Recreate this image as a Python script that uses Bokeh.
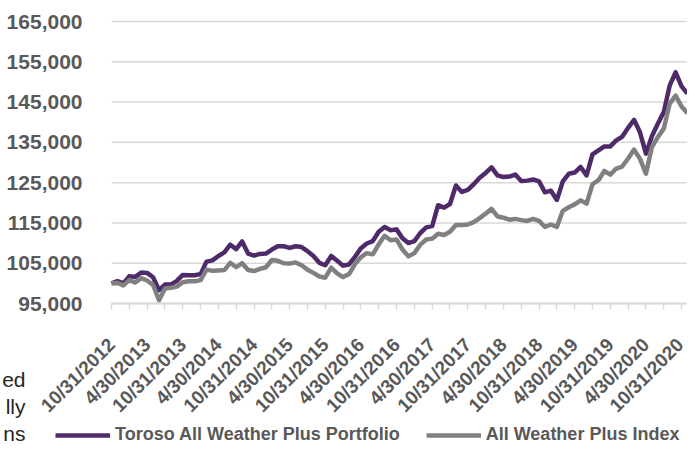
import math
import calendar
from bokeh.plotting import figure
from bokeh.models import (Range1d, FixedTicker, NumeralTickFormatter, Legend,
                          LegendItem, Label, ColumnDataSource)
from bokeh.embed import file_html
from bokeh.resources import INLINE

# ---- data -------------------------------------------------------------
n_months = 98
month_labels = []
for k in range(n_months):
    m = 10 + k
    yr = 2012 + (m - 1) // 12
    mo = (m - 1) % 12 + 1
    month_labels.append(f"{mo}/{calendar.monthrange(yr, mo)[1]}/{yr}")

portfolio = [
    100000, 100550, 100000, 101800, 101600, 102700, 102600, 101500, 98300, 99700,
    99700, 100600, 102100, 102000, 102000, 102300, 105400, 105700, 106800, 107700,
    109600, 108500, 110400, 107400, 106900, 107300, 107400, 108400, 109200, 109200,
    108800, 109200, 109000, 108000, 106800, 105100, 104500, 106800, 105600, 104400,
    104700, 106600, 108700, 109900, 110500, 112800, 114000, 113200, 113400, 111200,
    110000, 110500, 112500, 113900, 114200, 119400, 118800, 119700, 124300, 122700,
    123200, 124600, 126200, 127400, 128800, 126800, 126400, 126500, 127000, 125400,
    125500, 125800, 125300, 122600, 123000, 120700, 125300, 127200, 127500, 128900,
    126800, 132000, 133000, 134000, 134000, 135500, 136400, 138600, 140600, 137500,
    132200, 136500, 139600, 142500, 149100, 152400, 148900, 147100,
]
index_vals = [
    100000, 100100, 99500, 100800, 100200, 101300, 100700, 99600, 95800, 98700,
    98900, 99200, 100300, 100500, 100500, 100800, 103400, 103100, 103200, 103300,
    105100, 104000, 105000, 103300, 103050, 103600, 104000, 105800, 105600, 105000,
    104900, 105200, 104500, 103400, 102600, 101700, 101400, 103900, 102500, 101550,
    102300, 104800, 106500, 107500, 107200, 109700, 111800, 110700, 110900, 108400,
    106700, 107500, 109600, 110900, 111100, 112300, 112000, 112800, 114500, 114500,
    114600, 115200, 116200, 117300, 118500, 116600, 116300, 115800, 116000, 115700,
    115500, 116000, 115500, 114000, 114600, 114000, 118000, 118900, 119600, 120600,
    119800, 124600, 125600, 127900, 127000, 128500, 129000, 131000, 133200, 130900,
    127200, 133800, 136300, 138400, 144600, 146600, 143900, 142250,
]
series_names = ["Toroso All Weather Plus Portfolio", "All Weather Plus Index"]
y_ticks = list(range(95000, 165001, 10000))
tick_step = 3
label_step = 6
side_text = ["ed", "lly", "ns"]

# ---- layout constants (pixels / ranges) --------------------------------
W, H = 687, 445
X_START, X_END = -18.695, 97.0    # canvas left / right edge in month units
Y_BOTTOM, Y_TOP = 59752, 170213   # canvas bottom / top in value units
Y_AXIS_AT = 95000

TXT = "#595959"
FONT = "Liberation Sans"
GRID = "#d9d9d9"

src = ColumnDataSource(dict(x=list(range(n_months)), p=portfolio, g=index_vals))

p = figure(width=W, height=H, output_backend="svg", toolbar_location=None,
           x_range=Range1d(X_START, X_END), y_range=Range1d(Y_BOTTOM, Y_TOP),
           min_border=0)
p.outline_line_color = None
p.background_fill_color = "white"
p.border_fill_color = "white"
p.xgrid.visible = False
p.ygrid.visible = False

# horizontal gridlines limited to the plotting area
p.segment(x0=[0] * len(y_ticks), x1=[X_END] * len(y_ticks), y0=y_ticks, y1=y_ticks,
          line_color=GRID, line_width=1.5)

rp = p.line("x", "p", source=src, line_color="#4f2a6b", line_width=4.5,
            line_join="round")
rg = p.line("x", "g", source=src, line_color="#808080", line_width=4.5,
            line_join="round")

# y axis (drawn at x = 0)
p.yaxis.fixed_location = 0
p.yaxis.ticker = FixedTicker(ticks=y_ticks)
p.yaxis.formatter = NumeralTickFormatter(format="0,0")
p.yaxis.axis_line_color = None
p.yaxis.major_tick_line_color = None
p.yaxis.minor_tick_line_color = None
p.yaxis.major_label_standoff = 23
p.yaxis.major_label_text_font = FONT
p.yaxis.major_label_text_font_style = "bold"
p.yaxis.major_label_text_font_size = "21px"
p.yaxis.major_label_text_color = TXT

# x axis (drawn at y = 95,000)
xt = list(range(0, n_months, tick_step))
p.xaxis.fixed_location = Y_AXIS_AT
p.xaxis.bounds = (0, X_END)
p.xaxis.ticker = FixedTicker(ticks=xt)
p.xaxis.major_label_overrides = {t: (month_labels[t] if t % label_step == 0 else "")
                                 for t in xt}
p.xaxis.major_label_orientation = math.pi / 4
p.xaxis.axis_line_color = GRID
p.xaxis.axis_line_width = 2
p.xaxis.major_tick_line_color = GRID
p.xaxis.major_tick_line_width = 1.5
p.xaxis.major_tick_out = 6
p.xaxis.major_tick_in = 0
p.xaxis.minor_tick_line_color = None
p.xaxis.major_label_standoff = 32
p.xaxis.major_label_text_font = FONT
p.xaxis.major_label_text_font_style = "bold"
p.xaxis.major_label_text_font_size = "19px"
p.xaxis.major_label_text_color = TXT

# legend
legend = Legend(items=[LegendItem(label=series_names[0], renderers=[rp]),
                       LegendItem(label=series_names[1], renderers=[rg])],
                location=(55, 0), orientation="horizontal",
                glyph_width=55, glyph_height=20, label_height=20,
                label_standoff=5, spacing=26, padding=0, margin=0,
                border_line_color=None, background_fill_alpha=0,
                label_text_font=FONT, label_text_font_style="bold",
                label_text_font_size="18px", label_text_color=TXT)
p.add_layout(legend)

# paragraph fragments at the lower left
for i, t in enumerate(side_text):
    p.add_layout(Label(x=25, y=66 - 27 * i, x_units="screen", y_units="screen",
                       text=t, text_align="right", text_baseline="middle",
                       text_font=FONT, text_font_size="21px",
                       text_color="#262626"))

open("out.html", "w").write(file_html(p, INLINE))
